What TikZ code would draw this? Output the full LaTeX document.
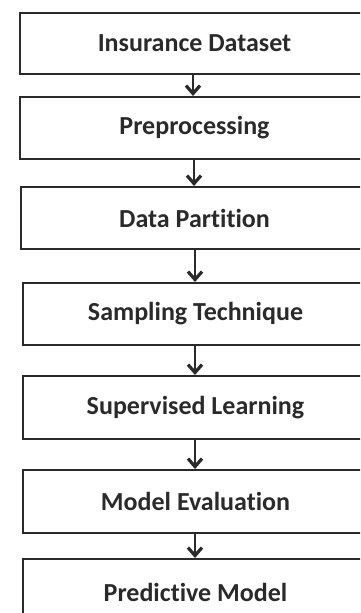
\documentclass[tikz,border=0pt]{standalone}
\usepackage{fontspec}
\setmainfont{Carlito}[Ligatures=NoCommon]
\usetikzlibrary{arrows.meta}
\definecolor{ink}{HTML}{2A2A2A}
\begin{document}
\begin{tikzpicture}[x=1pt,y=-1pt,
  stage/.style={draw=ink, line width=2pt, fill=white, inner sep=0pt,
    font=\fontsize{26}{30}\selectfont\bfseries, text=ink},
  flow/.style={draw=ink, line width=2.6pt, -{Straight Barb[length=8pt,width=14pt,line width=3.2pt]}}]
  \useasboundingbox (0,0) rectangle (360,613);
  \clip (0,0) rectangle (360,613);
  \fill[white] (0,0) rectangle (360,613);
  % stage boxes, positioned in pixel units
  \node[stage, minimum width=349pt, minimum height=61.5pt] (s1) at (194.5,43.3) {Insurance Dataset};
  \node[stage, minimum width=349pt, minimum height=62pt] (s2) at (194.5,128) {Preprocessing};
  \node[stage, minimum width=347pt, minimum height=62pt] (s3) at (194.5,218) {Data Partition};
  \node[stage, minimum width=345pt, minimum height=62pt] (s4) at (195.5,314) {Sampling Technique};
  \node[stage, minimum width=345pt, minimum height=63pt] (s5) at (195.5,407.5) {Supervised Learning};
  \node[stage, minimum width=345pt, minimum height=63pt] (s6) at (195.5,501.5) {Model Evaluation};
  \node[stage, minimum width=345pt, minimum height=66pt] (s7) at (195.5,592) {Predictive Model};
  % connectors between consecutive stages
  \draw[flow] (s1.south -| 193,0) -- (s2.north -| 193,0);
  \draw[flow] (s2.south -| 194,0) -- (s3.north -| 194,0);
  \draw[flow] (s3.south -| 195,0) -- (s4.north -| 195,0);
  \draw[flow] (s4.south -| 195,0) -- (s5.north -| 195,0);
  \draw[flow] (s5.south -| 195,0) -- (s6.north -| 195,0);
  \draw[flow] (s6.south -| 195,0) -- (s7.north -| 195,0);
\end{tikzpicture}
\end{document}
